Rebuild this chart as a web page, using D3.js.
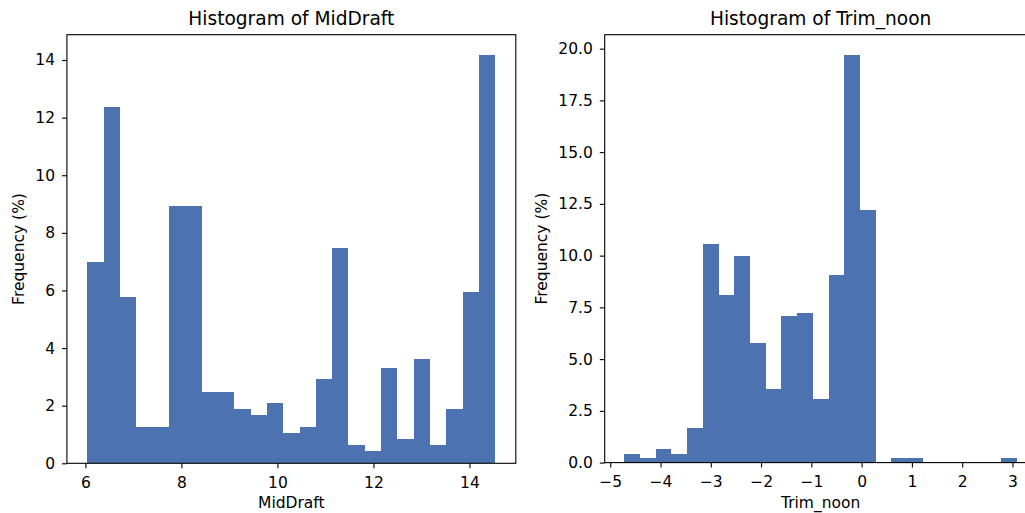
<!DOCTYPE html>
<html>
<head>
<meta charset="utf-8">
<script src="https://cdn.jsdelivr.net/npm/d3@7"></script>
<style>
  body { margin: 0; background: #fff; }
  svg text { font-family: "DejaVu Sans", sans-serif; fill: #000; }
</style>
</head>
<body>
<svg id="chart" width="1025" height="513"></svg>
<script>
// Histogram of MidDraft: 25 equal bins between the data min and max, frequency in %
const midDraftRange = [6.04, 14.54];
const midDraftFreq = [
  7.00, 12.38, 5.77, 1.25, 1.25, 8.93, 8.93, 2.48, 2.48, 1.88,
  1.68, 2.08, 1.04, 1.25, 2.92, 7.49, 0.65, 0.44, 3.31, 0.85,
  3.63, 0.65, 1.88, 5.94, 14.17
];
const midDraftXTicks = [6, 8, 10, 12, 14];
const midDraftYTicks = [0, 2, 4, 6, 8, 10, 12, 14];

// Histogram of Trim_noon: 25 equal bins, frequency in %
const trimNoonRange = [-4.72, 3.09];
const trimNoonFreq = [
  0.43, 0.22, 0.65, 0.43, 1.67, 10.56, 8.09, 10.00, 5.80, 3.54,
  7.07, 7.23, 3.09, 9.07, 19.69, 12.22, 0, 0.22, 0.22, 0,
  0, 0, 0, 0, 0.22
];
const trimNoonXTicks = [-5, -4, -3, -2, -1, 0, 1, 2, 3];
const trimNoonYTicks = [0, 2.5, 5, 7.5, 10, 12.5, 15, 17.5, 20];

const svg = d3.select("#chart");
const BAR = "#4c72b0";
const TICK_LEN = 4.9;
const FONT = 15.5;
const TITLE_FONT = 18.6;

function panel(cfg) {
  const [lo, hi] = cfg.range;
  const n = cfg.freq.length;
  const w = (hi - lo) / n;
  const bins = cfg.freq.map((v, i) => ({ x0: lo + i * w, x1: lo + (i + 1) * w, v }));
  const pad = (hi - lo) * 0.05;

  const x = d3.scaleLinear().domain([lo - pad, hi + pad]).range(cfg.px);
  const yMax = d3.max(cfg.freq) * 1.05;
  const y = d3.scaleLinear().domain([0, yMax]).range(cfg.py);

  const g = svg.append("g");

  g.append("g").attr("shape-rendering", "crispEdges").selectAll("rect")
    .data(bins.filter(d => d.v > 0))
    .join("rect")
    .attr("x", d => x(d.x0))
    .attr("width", d => x(d.x1) - x(d.x0))
    .attr("y", d => y(d.v))
    .attr("height", d => y(0) - y(d.v))
    .attr("fill", BAR);

  // frame
  g.append("rect")
    .attr("x", cfg.px[0]).attr("y", cfg.py[1])
    .attr("width", cfg.px[1] - cfg.px[0])
    .attr("height", cfg.py[0] - cfg.py[1])
    .attr("fill", "none").attr("stroke", "#000").attr("stroke-width", 1.1);

  const xAxis = g.append("g")
    .attr("transform", `translate(0,${cfg.py[0]})`)
    .call(d3.axisBottom(x).tickValues(cfg.xTicks).tickFormat(d3.format("d"))
      .tickSize(TICK_LEN).tickPadding(8.3).tickSizeOuter(0));
  const yAxis = g.append("g")
    .attr("transform", `translate(${cfg.px[0]},0)`)
    .call(d3.axisLeft(y).tickValues(cfg.yTicks).tickFormat(d3.format(cfg.yFmt))
      .tickSize(TICK_LEN).tickPadding(7).tickSizeOuter(0));

  [xAxis, yAxis].forEach(a => {
    a.select(".domain").remove();
    a.selectAll(".tick line").attr("stroke", "#000").attr("stroke-width", 1.1);
    a.selectAll(".tick text").attr("font-size", FONT).attr("font-family", "DejaVu Sans").attr("fill", "#000");
  });

  const cx = (cfg.px[0] + cfg.px[1]) / 2;
  const cy = (cfg.py[0] + cfg.py[1]) / 2;

  g.append("text")
    .attr("x", cx).attr("y", 25)
    .attr("text-anchor", "middle").attr("font-size", TITLE_FONT)
    .text(cfg.title);

  g.append("text")
    .attr("x", cx).attr("y", 508)
    .attr("text-anchor", "middle").attr("font-size", FONT)
    .text(cfg.xLabel);

  g.append("text")
    .attr("transform", `translate(${cfg.yLabelX},${cy}) rotate(-90)`)
    .attr("text-anchor", "middle").attr("font-size", FONT)
    .text("Frequency (%)");
}

panel({
  range: midDraftRange, freq: midDraftFreq,
  xTicks: midDraftXTicks, yTicks: midDraftYTicks, yFmt: "d",
  px: [66.9, 515.8], py: [463.3, 34.7],
  title: "Histogram of MidDraft", xLabel: "MidDraft", yLabelX: 24
});

panel({
  range: trimNoonRange, freq: trimNoonFreq,
  xTicks: trimNoonXTicks, yTicks: trimNoonYTicks, yFmt: ".1f",
  px: [604.7, 1036.6], py: [462.6, 34.7],
  title: "Histogram of Trim_noon", xLabel: "Trim_noon", yLabelX: 547
});
</script>
</body>
</html>
